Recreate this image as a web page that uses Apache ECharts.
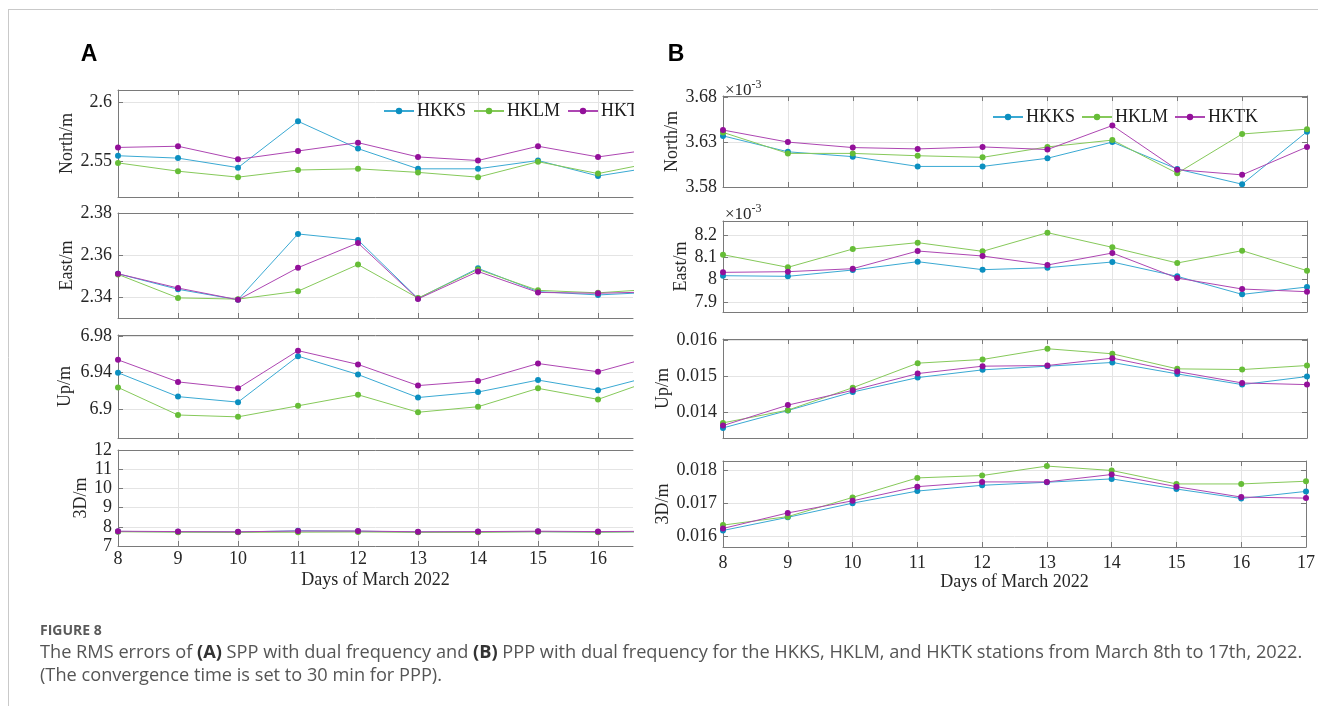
<!DOCTYPE html>
<html><head><meta charset="utf-8">
<script src="https://cdn.jsdelivr.net/npm/echarts@6/dist/echarts.min.js"></script>
<style>html,body{margin:0;padding:0;background:#fff}#c{width:1318px;height:706px}</style>
</head><body><div id="c"></div>
<script>
// ---------- data ----------
const days = [8, 9, 10, 11, 12, 13, 14, 15, 16, 17];
const dayTicksA = [8, 9, 10, 11, 12, 13, 14, 15, 16];
const dayTicksB = [8, 9, 10, 11, 12, 13, 14, 15, 16, 17];
const stations = ['HKKS', 'HKLM', 'HKTK'];

// (A) SPP dual frequency, metres
const sppNorthHKKS = [2.555, 2.553, 2.545, 2.584, 2.561, 2.544, 2.544, 2.551, 2.538, 2.546];
const sppNorthHKLM = [2.549, 2.542, 2.537, 2.543, 2.544, 2.541, 2.537, 2.550, 2.540, 2.550];
const sppNorthHKTK = [2.562, 2.563, 2.552, 2.559, 2.566, 2.554, 2.551, 2.563, 2.554, 2.561];
const sppEastHKKS = [2.3513, 2.3439, 2.3389, 2.3703, 2.3674, 2.3395, 2.3539, 2.3428, 2.3412, 2.3426];
const sppEastHKLM = [2.3510, 2.3398, 2.3392, 2.3430, 2.3557, 2.3397, 2.3534, 2.3434, 2.3422, 2.3441];
const sppEastHKTK = [2.3513, 2.3445, 2.3389, 2.3542, 2.3660, 2.3393, 2.3524, 2.3424, 2.3420, 2.3427];
const sppUpHKKS = [6.940, 6.914, 6.908, 6.958, 6.938, 6.913, 6.919, 6.932, 6.921, 6.938];
const sppUpHKLM = [6.924, 6.894, 6.892, 6.904, 6.916, 6.897, 6.903, 6.923, 6.911, 6.934];
const sppUpHKTK = [6.954, 6.930, 6.923, 6.964, 6.949, 6.926, 6.931, 6.950, 6.941, 6.959];
const spp3dHKKS = [7.76, 7.74, 7.73, 7.79, 7.77, 7.73, 7.74, 7.75, 7.73, 7.75];
const spp3dHKLM = [7.74, 7.72, 7.71, 7.72, 7.73, 7.71, 7.71, 7.74, 7.72, 7.74];
const spp3dHKTK = [7.77, 7.75, 7.74, 7.78, 7.78, 7.74, 7.75, 7.77, 7.75, 7.77];

// (B) PPP dual frequency, metres
const pppNorthHKKS = [3.6369e-3, 3.6192e-3, 3.6138e-3, 3.6029e-3, 3.6029e-3, 3.6120e-3, 3.6300e-3, 3.6000e-3, 3.5831e-3, 3.6416e-3];
const pppNorthHKLM = [3.6408e-3, 3.6174e-3, 3.6174e-3, 3.6148e-3, 3.6130e-3, 3.6246e-3, 3.6322e-3, 3.5953e-3, 3.6390e-3, 3.6444e-3];
const pppNorthHKTK = [3.6434e-3, 3.6300e-3, 3.6239e-3, 3.6224e-3, 3.6246e-3, 3.6217e-3, 3.6484e-3, 3.5993e-3, 3.5935e-3, 3.6246e-3];
const pppEastHKKS = [8.0178e-3, 8.0149e-3, 8.0431e-3, 8.0802e-3, 8.0446e-3, 8.0535e-3, 8.0788e-3, 8.0149e-3, 7.9346e-3, 7.9673e-3];
const pppEastHKLM = [8.1114e-3, 8.0550e-3, 8.1367e-3, 8.1650e-3, 8.1263e-3, 8.2095e-3, 8.1441e-3, 8.0743e-3, 8.1293e-3, 8.0401e-3];
const pppEastHKTK = [8.0327e-3, 8.0357e-3, 8.0490e-3, 8.1278e-3, 8.1055e-3, 8.0654e-3, 8.1189e-3, 8.0074e-3, 7.9584e-3, 7.9465e-3];
const pppUpHKKS = [0.013574, 0.014056, 0.014565, 0.014963, 0.015176, 0.015278, 0.015380, 0.015065, 0.014769, 0.014991];
const pppUpHKLM = [0.013713, 0.014065, 0.014685, 0.015361, 0.015463, 0.015759, 0.015620, 0.015204, 0.015185, 0.015296];
const pppUpHKTK = [0.013639, 0.014204, 0.014611, 0.015074, 0.015278, 0.015296, 0.015500, 0.015130, 0.014815, 0.014769];
const ppp3dHKKS = [0.016178, 0.016574, 0.017000, 0.017365, 0.017538, 0.017630, 0.017731, 0.017426, 0.017142, 0.017355];
const ppp3dHKLM = [0.016340, 0.016594, 0.017173, 0.017761, 0.017832, 0.018117, 0.017985, 0.017579, 0.017579, 0.017660];
const ppp3dHKTK = [0.016239, 0.016706, 0.017071, 0.017497, 0.017640, 0.017640, 0.017863, 0.017497, 0.017183, 0.017152];

// y tick values
const ticksANorth = [2.55, 2.6];
const ticksAEast = [2.34, 2.36, 2.38];
const ticksAUp = [6.9, 6.94, 6.98];
const ticksA3d = [7, 8, 9, 10, 11, 12];
const ticksBNorth = [3.58e-3, 3.63e-3, 3.68e-3];
const ticksBEast = [7.9e-3, 8.0e-3, 8.1e-3, 8.2e-3];
const ticksBUp = [0.014, 0.015, 0.016];
const ticksB3d = [0.016, 0.017, 0.018];

// ---------- styling ----------
const LINE_COL = ['#3aa9d3', '#86c95a', '#ad46b2'];
const MARK_COL = ['#0b8fc0', '#66bd37', '#93109a'];
const SERIF = 'Liberation Serif';
const AX = '#7a7a7a';
const GRIDC = '#e4e4e4';
const TXT = '#262626';
const milli = v => String(+(v * 1000).toFixed(2));

const subplots = [
  {g: {left: 118, top: 90, width: 515, height: 107}, xmax: 16.583, ymin: 2.5203, ymax: 2.6103, yt: ticksANorth, name: 'North/m', gap: 36, vals: [sppNorthHKKS, sppNorthHKLM, sppNorthHKTK], right: false, xl: false, xt: dayTicksA},
  {g: {left: 118, top: 213, width: 515, height: 105}, xmax: 16.583, ymin: 2.3302, ymax: 2.3803, yt: ticksAEast, name: 'East/m', gap: 36, vals: [sppEastHKKS, sppEastHKLM, sppEastHKTK], right: false, xl: false, xt: dayTicksA},
  {g: {left: 118, top: 335, width: 515, height: 103}, xmax: 16.583, ymin: 6.869, ymax: 6.981, yt: ticksAUp, name: 'Up/m', gap: 44, vals: [sppUpHKKS, sppUpHKLM, sppUpHKTK], right: false, xl: false, xt: dayTicksA},
  {g: {left: 118, top: 450, width: 515, height: 96}, xmax: 16.583, ymin: 7, ymax: 12, yt: ticksA3d, name: '3D/m', gap: 27, vals: [spp3dHKKS, spp3dHKLM, spp3dHKTK], right: false, xl: true, xt: dayTicksA, lm: 4, ng: 25},
  {g: {left: 723, top: 96, width: 584, height: 91}, xmax: 17, ymin: 3.58e-3, ymax: 3.6813e-3, yt: ticksBNorth, name: 'North/m', gap: 37, vals: [pppNorthHKKS, pppNorthHKLM, pppNorthHKTK], right: true, xl: false, xt: dayTicksB, fmt: milli},
  {g: {left: 723, top: 221, width: 584, height: 91}, xmax: 17, ymin: 7.856e-3, ymax: 8.2615e-3, yt: ticksBEast, name: 'East/m', gap: 29, vals: [pppEastHKKS, pppEastHKLM, pppEastHKTK], right: true, xl: false, xt: dayTicksB, fmt: milli},
  {g: {left: 723, top: 339, width: 584, height: 99}, xmax: 17, ymin: 0.013296, ymax: 0.016028, yt: ticksBUp, name: 'Up/m', gap: 43, vals: [pppUpHKKS, pppUpHKLM, pppUpHKTK], right: true, xl: false, xt: dayTicksB},
  {g: {left: 723, top: 461, width: 584, height: 86}, xmax: 17, ymin: 0.01568, ymax: 0.01827, yt: ticksB3d, name: '3D/m', gap: 43, vals: [ppp3dHKKS, ppp3dHKLM, ppp3dHKTK], right: true, xl: true, xt: dayTicksB, lm: 7, ng: 26}
];

const grid = [], xAxis = [], yAxis = [], series = [];
subplots.forEach((p, i) => {
  grid.push(Object.assign({containLabel: false}, p.g));
  const xb = xAxis.length;
  xAxis.push({
    gridIndex: i, type: 'value', min: 8, max: p.xmax, position: 'bottom',
    axisLine: {show: true, onZero: false, lineStyle: {color: AX, width: 1}},
    axisTick: {show: true, inside: true, length: 5, customValues: p.xt, lineStyle: {color: AX}},
    axisLabel: {show: p.xl, customValues: p.xt, margin: p.lm || 7, fontFamily: SERIF, fontSize: 18, color: TXT},
    splitLine: {show: true, lineStyle: {color: GRIDC, width: 1}},
    name: p.xl ? 'Days of March 2022' : '', nameLocation: 'middle', nameGap: p.ng || 29,
    nameTextStyle: {fontFamily: SERIF, fontSize: 18, color: TXT}
  });
  xAxis.push({
    gridIndex: i, type: 'value', min: 8, max: p.xmax, position: 'top',
    axisLine: {show: true, onZero: false, lineStyle: {color: AX, width: 1}},
    axisTick: {show: true, inside: true, length: 5, customValues: p.xt, lineStyle: {color: AX}},
    axisLabel: {show: false}, splitLine: {show: false}
  });
  const yl = yAxis.length;
  yAxis.push({
    gridIndex: i, type: 'value', min: p.ymin, max: p.ymax, position: 'left',
    axisLine: {show: true, onZero: false, lineStyle: {color: AX, width: 1}},
    axisTick: {show: true, inside: true, length: 5, customValues: p.yt, lineStyle: {color: AX}},
    axisLabel: {show: true, customValues: p.yt, margin: 6, fontFamily: SERIF, fontSize: 18, color: TXT,
      formatter: p.fmt ? p.fmt : (v => String(+v.toFixed(4)))},
    splitLine: {show: true, lineStyle: {color: GRIDC, width: 1}},
    name: p.name, nameLocation: 'middle', nameGap: p.gap, nameRotate: 90,
    nameTextStyle: {fontFamily: SERIF, fontSize: 18, color: TXT}
  });
  if (p.right) {
    yAxis.push({
      gridIndex: i, type: 'value', min: p.ymin, max: p.ymax, position: 'right',
      axisLine: {show: true, onZero: false, lineStyle: {color: AX, width: 1}},
      axisTick: {show: true, inside: true, length: 5, customValues: p.yt, lineStyle: {color: AX}},
      axisLabel: {show: false}, splitLine: {show: false}
    });
  }
  stations.forEach((s, k) => {
    series.push({
      type: 'line', name: s, xAxisIndex: xb, yAxisIndex: yl,
      data: days.map((d, j) => [d, p.vals[k][j]]),
      symbol: 'circle', symbolSize: 6, showSymbol: true, clip: true,
      lineStyle: {width: 1, color: LINE_COL[k]},
      itemStyle: {color: MARK_COL[k]},
      emphasis: {disabled: true}, silent: true, animation: false
    });
  });
});

const legendBase = {
  orient: 'horizontal', itemWidth: 30, itemHeight: 8,
  textStyle: {fontFamily: SERIF, fontSize: 18, color: '#1a1a1a', padding: [0, 0, 0, -2]},
  data: stations, selectedMode: false
};

const captionLine1 = '{n|The RMS errors of }{b|(A)}{n| SPP with dual frequency and }{b|(B)}{n| PPP with dual frequency for the HKKS, HKLM, and HKTK stations from March 8th to 17th, 2022.}';
const captionLine2 = '(The convergence time is set to 30 min for PPP).';
const capFont = 'Open Sans';
const capSize = 18.2;

const option = {
  animation: false,
  backgroundColor: '#fff',
  grid, xAxis, yAxis, series,
  legend: [
    Object.assign({left: 378, top: 97, itemGap: 7}, legendBase),
    Object.assign({left: 987, top: 103, itemGap: 6}, legendBase)
  ],
  graphic: [
    {type: 'rect', z: 100, shape: {x: 634, y: 94, width: 30, height: 28}, style: {fill: '#fff'}},
    {type: 'line', z: 100, shape: {x1: 8, y1: 9.5, x2: 1318, y2: 9.5}, style: {stroke: '#c9c9c9', lineWidth: 1}},
    {type: 'line', z: 100, shape: {x1: 8.5, y1: 9, x2: 8.5, y2: 706}, style: {stroke: '#c9c9c9', lineWidth: 1}},
    {type: 'text', z: 100, x: 89, y: 55, style: {text: 'A', font: 'bold 23px "Liberation Sans"', fill: '#000', textAlign: 'center', textVerticalAlign: 'middle'}},
    {type: 'text', z: 100, x: 676, y: 55, style: {text: 'B', font: 'bold 23px "Liberation Sans"', fill: '#000', textAlign: 'center', textVerticalAlign: 'middle'}},
    {type: 'text', z: 100, x: 725, y: 79, style: {text: '{a|×10}{s|-3}', rich: {a: {fontFamily: SERIF, fontSize: 17, fill: TXT, verticalAlign: 'bottom'}, s: {fontFamily: SERIF, fontSize: 12, fill: TXT, verticalAlign: 'top', padding: [0, 0, 8, 0]}}}},
    {type: 'text', z: 100, x: 725, y: 203, style: {text: '{a|×10}{s|-3}', rich: {a: {fontFamily: SERIF, fontSize: 17, fill: TXT, verticalAlign: 'bottom'}, s: {fontFamily: SERIF, fontSize: 12, fill: TXT, verticalAlign: 'top', padding: [0, 0, 8, 0]}}}},
    {type: 'text', z: 100, x: 40, y: 631, style: {text: 'FIGURE 8', font: 'bold 14px "Open Sans"', fill: '#5a5a5a', textVerticalAlign: 'middle'}},
    {type: 'text', z: 100, x: 40, y: 653, style: {text: captionLine1, textVerticalAlign: 'middle', rich: {n: {fontFamily: capFont, fontSize: capSize, fill: '#555'}, b: {fontFamily: capFont, fontSize: capSize, fontWeight: 'bold', fill: '#333'}}}},
    {type: 'text', z: 100, x: 40, y: 676, style: {text: captionLine2, textVerticalAlign: 'middle', font: capSize + 'px "Open Sans"', fill: '#555'}}
  ]
};

const chart = echarts.init(document.getElementById('c'), null, {renderer: 'canvas'});
chart.setOption(option);
</script></body></html>
